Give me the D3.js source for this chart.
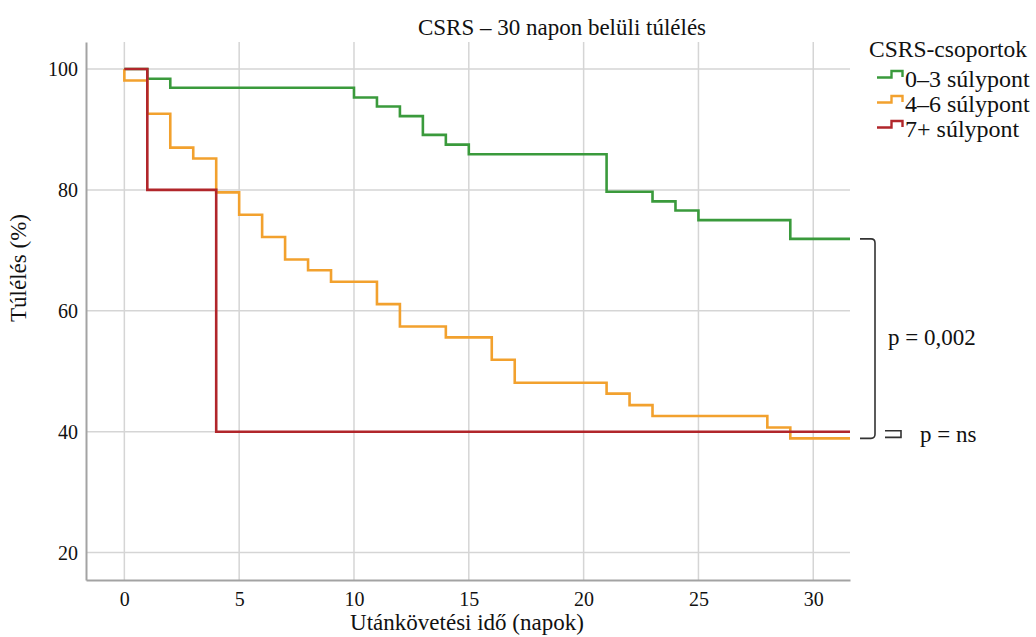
<!DOCTYPE html>
<html>
<head>
<meta charset="utf-8">
<script src="https://cdn.jsdelivr.net/npm/d3@7"></script>
<style>
  html, body { margin: 0; padding: 0; background: #fff; }
  svg text { font-family: 'Liberation Serif', 'Times New Roman', Times, serif !important; fill: #111; }
</style>
</head>
<body>
<div id="chart"></div>
<script>
// ─── Data ───
const groupNames = ['0–3 súlypont', '4–6 súlypont', '7+ súlypont'];
const groupColors = ['#3a9a3c', '#f2a12e', '#b1262b'];

const greenTimes = [0, 1, 2, 10, 11, 12, 13, 14, 15, 21, 23, 24, 25, 29];
const greenSurv  = [100, 98.4, 96.9, 95.3, 93.8, 92.2, 89.1, 87.5, 85.9, 79.7, 78.1, 76.6, 75.0, 71.9];

const orangeTimes = [0, 0, 1, 2, 3, 4, 5, 6, 7, 8, 9, 11, 12, 14, 16, 17, 21, 22, 23, 28, 29];
const orangeSurv  = [100, 98.1, 92.6, 87.0, 85.2, 79.6, 75.9, 72.2, 68.5, 66.7, 64.8, 61.1, 57.4, 55.6, 51.9, 48.1, 46.3, 44.4, 42.6, 40.7, 38.9];

const redTimes = [0, 1, 4];
const redSurv  = [100, 80, 40];

const followUpEnd = 31.6;

const xTicks = [0, 5, 10, 15, 20, 25, 30];
const yTicks = [20, 40, 60, 80, 100];

// ─── Layout ───
const W = 1036, H = 637;
const plot = { left: 86, right: 850, top: 42, bottom: 580 };
const serif = "'Liberation Serif', 'Times New Roman', Times, serif";

const svg = d3.select('#chart').append('svg')
  .attr('width', W).attr('height', H)
  .attr('viewBox', `0 0 ${W} ${H}`)
  .style('display', 'block');

const x = d3.scaleLinear().domain([-1.67, 31.6]).range([plot.left, plot.right]);
const y = d3.scaleLinear().domain([15.47, 104.47]).range([plot.bottom, plot.top]);

// ─── Grid ───
const grid = svg.append('g');
grid.selectAll('line.h').data(yTicks).join('line')
  .attr('x1', plot.left).attr('x2', plot.right)
  .attr('y1', d => y(d)).attr('y2', d => y(d))
  .attr('stroke', '#d5d5d5').attr('stroke-width', 1.5);
grid.selectAll('line.v').data(xTicks).join('line')
  .attr('y1', plot.top).attr('y2', plot.bottom)
  .attr('x1', d => x(d)).attr('x2', d => x(d))
  .attr('stroke', '#d5d5d5').attr('stroke-width', 1.5);

// ─── Axes ───
const xAxis = svg.append('g')
  .attr('transform', `translate(0,${plot.bottom})`)
  .call(d3.axisBottom(x).tickValues(xTicks).tickSize(0).tickPadding(12));
const yAxis = svg.append('g')
  .attr('transform', `translate(${plot.left},0)`)
  .call(d3.axisLeft(y).tickValues(yTicks).tickSize(0).tickPadding(8));

[xAxis, yAxis].forEach(a => {
  a.attr('font-family', serif).attr('font-size', 20);
  a.select('.domain').attr('stroke', '#a3a3a3').attr('stroke-width', 2);
  a.selectAll('text')
    .style('font-family', serif)
    .style('font-size', '20px')
    .attr('fill', '#111');
});
xAxis.selectAll('text').attr('dy', '0.71em');
yAxis.selectAll('text').attr('dy', '0.34em');

// ─── KM step curves ───
const series = [
  { times: greenTimes, surv: greenSurv, color: groupColors[0] },
  { times: orangeTimes, surv: orangeSurv, color: groupColors[1] },
  { times: redTimes, surv: redSurv, color: groupColors[2] },
];

const stepLine = d3.line()
  .x(d => x(d[0]))
  .y(d => y(d[1]))
  .curve(d3.curveStepAfter);

series.forEach(s => {
  const pts = s.times.map((t, i) => [t, s.surv[i]]);
  pts.push([followUpEnd, s.surv[s.surv.length - 1]]);
  svg.append('path')
    .attr('d', stepLine(pts))
    .attr('fill', 'none')
    .attr('stroke', s.color)
    .attr('stroke-width', 2.6)
    .attr('stroke-linejoin', 'miter');
});

// helper for plain labels
function label(xp, yp, txt, size, anchor) {
  return svg.append('text')
    .attr('x', xp).attr('y', yp)
    .attr('text-anchor', anchor || 'start')
    .style('font-family', serif)
    .style('font-size', size + 'px')
    .attr('fill', '#111')
    .text(txt);
}

// ─── Titles ───
label(562, 35, 'CSRS – 30 napon belüli túlélés', 23, 'middle');
label(467, 630, 'Utánkövetési idő (napok)', 23, 'middle');
svg.append('text')
  .attr('transform', 'translate(26,268) rotate(-90)')
  .attr('text-anchor', 'middle')
  .style('font-family', serif)
  .style('font-size', '23px')
  .attr('fill', '#111')
  .text('Túlélés (%)');

// ─── Legend ───
label(869, 57, 'CSRS-csoportok', 23.5);

groupNames.forEach((name, i) => {
  const base = 86.5 + i * 25;
  svg.append('path')
    .attr('d', `M877,${base - 9} H891.5 V${base - 15.5} H902.5 V${base - 9.5}`)
    .attr('fill', 'none')
    .attr('stroke', groupColors[i])
    .attr('stroke-width', 2.4);
  label(905, base, name, 24);
});

// ─── Log-rank annotations ───
const yG = y(greenSurv[greenSurv.length - 1]);
const yO = y(orangeSurv[orangeSurv.length - 1]);
const yR = y(redSurv[redSurv.length - 1]);

svg.append('path')
  .attr('d', `M860,${yG} H871 Q875,${yG} 875,${yG + 4} V${yO - 4} Q875,${yO} 871,${yO} H860`)
  .attr('fill', 'none').attr('stroke', '#333').attr('stroke-width', 1.6);

svg.append('path')
  .attr('d', `M885,${yR - 1} H901 V${yO - 1} H885`)
  .attr('fill', 'none').attr('stroke', '#333').attr('stroke-width', 1.6);

label(888, 345, 'p = 0,002', 23);
label(920, 442, 'p = ns', 23);
</script>
</body>
</html>
